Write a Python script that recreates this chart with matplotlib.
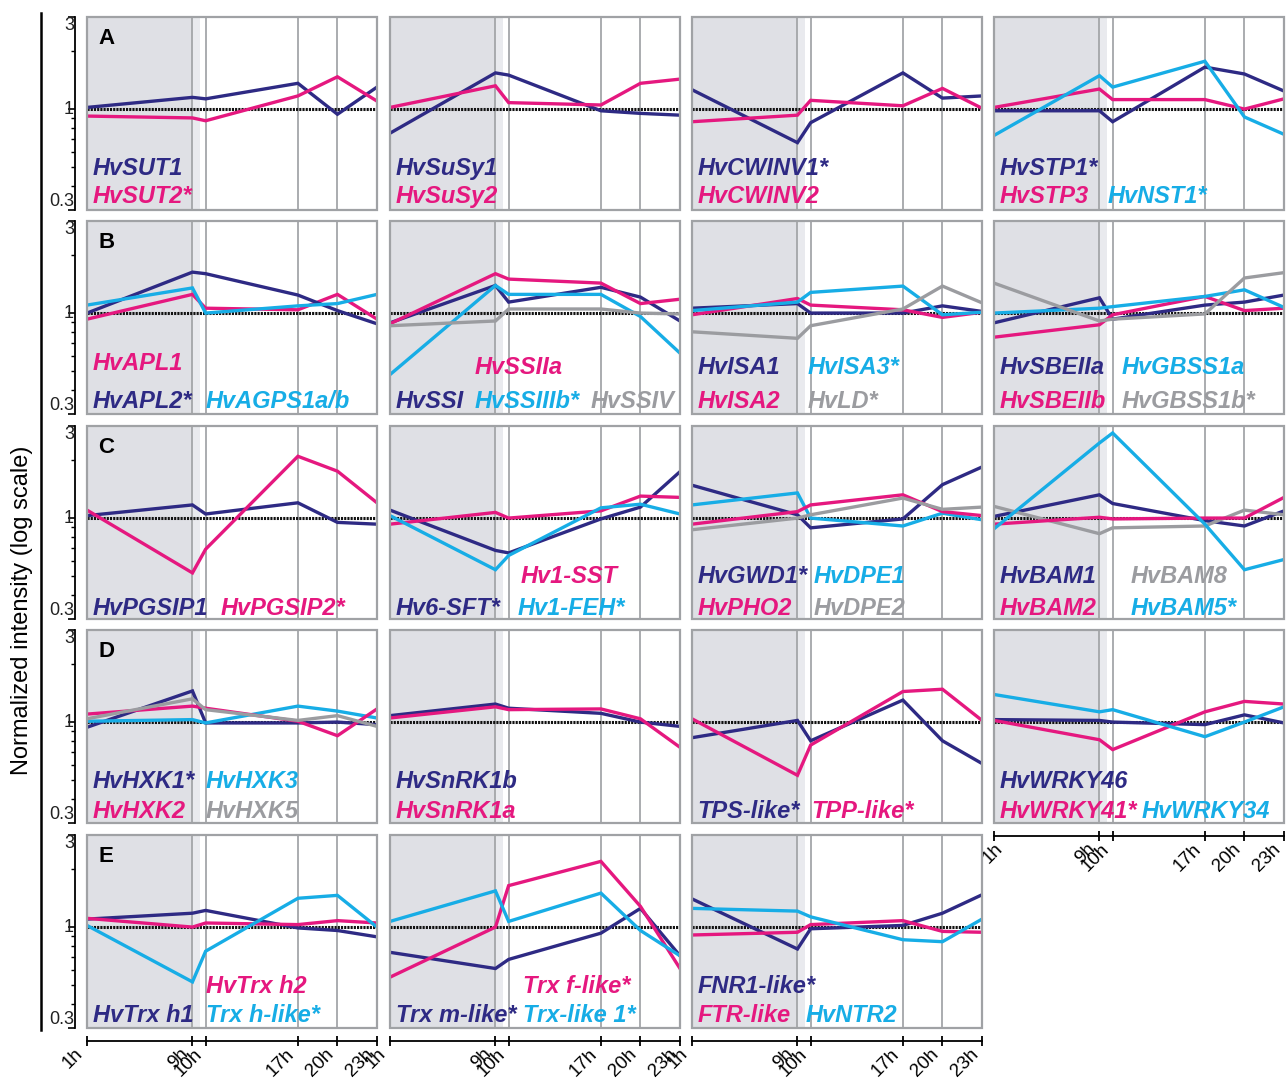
import matplotlib
matplotlib.use('Agg')
import matplotlib.pyplot as plt
from matplotlib.patches import Rectangle
from matplotlib.lines import Line2D
from matplotlib.ticker import FixedLocator, NullFormatter
from matplotlib.transforms import blended_transform_factory, ScaledTranslation

plt.rcParams['font.family'] = ['Liberation Sans', 'DejaVu Sans']

# ---- sampling times and axis labels ----
hours = [1, 9, 10, 17, 20, 23]
hour_labels = ['1h', '9h', '10h', '17h', '20h', '23h']
y_ticks = [0.3, 1, 3]
y_tick_labels = ['0.3', '1', '3']
y_minor = [0.4, 0.5, 0.6, 0.7, 0.8, 0.9, 2]

# ---- A: sucrose transport / cleavage, hexose transport ----
HvSUT1 = [1.02, 1.15, 1.13, 1.36, 0.94, 1.30]
HvSUT2 = [0.92, 0.90, 0.87, 1.17, 1.47, 1.10]
HvSuSy1 = [0.75, 1.54, 1.50, 0.98, 0.95, 0.93]
HvSuSy2 = [1.02, 1.32, 1.08, 1.05, 1.36, 1.43]
HvCWINV1 = [1.26, 0.67, 0.85, 1.54, 1.14, 1.17]
HvCWINV2 = [0.86, 0.93, 1.11, 1.04, 1.28, 1.01]
HvSTP1 = [0.98, 0.98, 0.86, 1.65, 1.52, 1.24]
HvSTP3 = [1.02, 1.27, 1.12, 1.12, 1.00, 1.13]
HvNST1 = [0.73, 1.49, 1.30, 1.77, 0.91, 0.74]

# ---- B: starch synthesis ----
HvAPL1 = [0.93, 1.25, 1.06, 1.04, 1.25, 0.93]
HvAPL2 = [1.00, 1.63, 1.60, 1.24, 1.03, 0.88]
HvAGPS1ab = [1.10, 1.35, 1.00, 1.09, 1.12, 1.25]
HvSSI = [0.89, 1.39, 1.14, 1.36, 1.21, 0.91]
HvSSIIa = [0.88, 1.60, 1.50, 1.43, 1.12, 1.18]
HvSSIIIb = [0.48, 1.39, 1.25, 1.25, 0.96, 0.62]
HvSSIV = [0.86, 0.91, 1.05, 1.05, 1.00, 0.99]
HvISA1 = [1.06, 1.12, 1.00, 1.00, 1.09, 1.02]
HvISA2 = [0.98, 1.19, 1.10, 1.04, 0.95, 1.01]
HvISA3 = [1.03, 1.14, 1.28, 1.38, 0.98, 1.01]
HvLD = [0.80, 0.74, 0.86, 1.05, 1.38, 1.13]
HvSBEIIa = [0.89, 1.20, 0.93, 1.10, 1.14, 1.24]
HvSBEIIb = [0.75, 0.87, 0.98, 1.22, 1.03, 1.06]
HvGBSS1a = [1.00, 1.06, 1.08, 1.22, 1.32, 1.07]
HvGBSS1b = [1.43, 0.91, 0.93, 0.99, 1.52, 1.62]

# ---- C: fructan and starch degradation ----
HvPGSIP1 = [1.03, 1.17, 1.05, 1.20, 0.95, 0.93]
HvPGSIP2 = [1.10, 0.52, 0.69, 2.09, 1.75, 1.20]
Hv6SFT = [1.10, 0.68, 0.66, 0.99, 1.14, 1.74]
Hv1SST = [0.93, 1.07, 1.00, 1.09, 1.30, 1.28]
Hv1FEH = [1.03, 0.54, 0.64, 1.13, 1.18, 1.05]
HvGWD1 = [1.48, 1.04, 0.89, 0.99, 1.49, 1.84]
HvDPE1 = [1.17, 1.35, 1.00, 0.91, 1.06, 0.98]
HvPHO2 = [0.93, 1.08, 1.17, 1.32, 1.08, 1.03]
HvDPE2 = [0.87, 1.00, 1.04, 1.27, 1.11, 1.14]
HvBAM1 = [1.02, 1.32, 1.19, 0.97, 0.91, 1.09]
HvBAM8 = [1.15, 0.83, 0.89, 0.91, 1.10, 1.04]
HvBAM2 = [0.93, 1.01, 0.99, 1.00, 1.00, 1.28]
HvBAM5 = [0.88, 2.45, 2.76, 0.93, 0.54, 0.61]

# ---- D: sugar sensing and signalling ----
HvHXK1 = [0.94, 1.45, 0.99, 0.99, 1.00, 0.97]
HvHXK3 = [1.01, 1.03, 0.99, 1.21, 1.14, 1.05]
HvHXK2 = [1.10, 1.21, 1.18, 1.01, 0.85, 1.17]
HvHXK5 = [1.04, 1.32, 1.16, 1.02, 1.08, 0.95]
HvSnRK1b = [1.08, 1.24, 1.18, 1.11, 1.00, 0.95]
HvSnRK1a = [1.05, 1.20, 1.16, 1.17, 1.04, 0.74]
TPSlike = [0.83, 1.02, 0.80, 1.30, 0.80, 0.61]
TPPlike = [1.04, 0.53, 0.76, 1.44, 1.48, 1.02]
HvWRKY46 = [1.03, 1.02, 1.00, 0.97, 1.09, 0.99]
HvWRKY41 = [1.02, 0.81, 0.72, 1.13, 1.28, 1.24]
HvWRKY34 = [1.39, 1.13, 1.16, 0.84, 1.00, 1.20]

# ---- E: redox regulation ----
HvTrxh1 = [1.10, 1.18, 1.22, 0.99, 0.96, 0.89]
HvTrxh2 = [1.11, 1.00, 1.05, 1.03, 1.08, 1.05]
Trxhlike = [1.02, 0.52, 0.75, 1.41, 1.46, 1.00]
Trxmlike = [0.74, 0.61, 0.68, 0.93, 1.25, 0.71]
Trxflike = [0.55, 1.00, 1.64, 2.19, 1.28, 0.61]
Trxlike1 = [1.07, 1.54, 1.07, 1.50, 0.96, 0.71]
FNR1like = [1.40, 0.77, 0.98, 1.02, 1.18, 1.47]
FTRlike = [0.91, 0.94, 1.03, 1.08, 0.95, 0.94]
HvNTR2 = [1.25, 1.21, 1.13, 0.86, 0.84, 1.10]

NAVY = '#2e2a84'
MAGENTA = '#e5187f'
CYAN = '#17ade6'
GREY = '#9b9ca0'

L = 0.02  # left text column (axes fraction)

# (row, col, letter, [(label, values, colour, x, line)])
panels = [
    (0, 0, 'A', [('HvSUT1', HvSUT1, NAVY, L, 1), ('HvSUT2*', HvSUT2, MAGENTA, L, 2)]),
    (0, 1, None, [('HvSuSy1', HvSuSy1, NAVY, L, 1), ('HvSuSy2', HvSuSy2, MAGENTA, L, 2)]),
    (0, 2, None, [('HvCWINV1*', HvCWINV1, NAVY, L, 1), ('HvCWINV2', HvCWINV2, MAGENTA, L, 2)]),
    (0, 3, None, [('HvSTP1*', HvSTP1, NAVY, L, 1), ('HvSTP3', HvSTP3, MAGENTA, L, 2),
                  ('HvNST1*', HvNST1, CYAN, 0.39, 2)]),
    (1, 0, 'B', [('HvAPL1', HvAPL1, MAGENTA, L, 1), ('HvAPL2*', HvAPL2, NAVY, L, 2),
                 ('HvAGPS1a/b', HvAGPS1ab, CYAN, 0.41, 2)]),
    (1, 1, None, [('HvSSI', HvSSI, NAVY, L, 2), ('HvSSIIa', HvSSIIa, MAGENTA, 0.29, 1),
                  ('HvSSIIIb*', HvSSIIIb, CYAN, 0.29, 2), ('HvSSIV', HvSSIV, GREY, 0.69, 2)]),
    (1, 2, None, [('HvISA1', HvISA1, NAVY, L, 1), ('HvISA2', HvISA2, MAGENTA, L, 2),
                  ('HvISA3*', HvISA3, CYAN, 0.40, 1), ('HvLD*', HvLD, GREY, 0.40, 2)]),
    (1, 3, None, [('HvSBEIIa', HvSBEIIa, NAVY, L, 1), ('HvSBEIIb', HvSBEIIb, MAGENTA, L, 2),
                  ('HvGBSS1a', HvGBSS1a, CYAN, 0.44, 1), ('HvGBSS1b*', HvGBSS1b, GREY, 0.44, 2)]),
    (2, 0, 'C', [('HvPGSIP1', HvPGSIP1, NAVY, L, 2), ('HvPGSIP2*', HvPGSIP2, MAGENTA, 0.46, 2)]),
    (2, 1, None, [('Hv6-SFT*', Hv6SFT, NAVY, L, 2), ('Hv1-SST', Hv1SST, MAGENTA, 0.45, 1),
                  ('Hv1-FEH*', Hv1FEH, CYAN, 0.44, 2)]),
    (2, 2, None, [('HvGWD1*', HvGWD1, NAVY, L, 1), ('HvDPE1', HvDPE1, CYAN, 0.42, 1),
                  ('HvPHO2', HvPHO2, MAGENTA, L, 2), ('HvDPE2', HvDPE2, GREY, 0.42, 2)]),
    (2, 3, None, [('HvBAM1', HvBAM1, NAVY, L, 1), ('HvBAM8', HvBAM8, GREY, 0.47, 1),
                  ('HvBAM2', HvBAM2, MAGENTA, L, 2), ('HvBAM5*', HvBAM5, CYAN, 0.47, 2)]),
    (3, 0, 'D', [('HvHXK1*', HvHXK1, NAVY, L, 1), ('HvHXK3', HvHXK3, CYAN, 0.41, 1),
                 ('HvHXK2', HvHXK2, MAGENTA, L, 2), ('HvHXK5', HvHXK5, GREY, 0.41, 2)]),
    (3, 1, None, [('HvSnRK1b', HvSnRK1b, NAVY, L, 1), ('HvSnRK1a', HvSnRK1a, MAGENTA, L, 2)]),
    (3, 2, None, [('TPS-like*', TPSlike, NAVY, L, 2), ('TPP-like*', TPPlike, MAGENTA, 0.41, 2)]),
    (3, 3, None, [('HvWRKY46', HvWRKY46, NAVY, L, 1), ('HvWRKY41*', HvWRKY41, MAGENTA, L, 2),
                  ('HvWRKY34', HvWRKY34, CYAN, 0.51, 2)]),
    (4, 0, 'E', [('HvTrx h1', HvTrxh1, NAVY, L, 2), ('HvTrx h2', HvTrxh2, MAGENTA, 0.41, 1),
                 ('Trx h-like*', Trxhlike, CYAN, 0.41, 2)]),
    (4, 1, None, [('Trx m-like*', Trxmlike, NAVY, L, 2), ('Trx f-like*', Trxflike, MAGENTA, 0.46, 1),
                  ('Trx-like 1*', Trxlike1, CYAN, 0.46, 2)]),
    (4, 2, None, [('FNR1-like*', FNR1like, NAVY, L, 1), ('FTR-like', FTRlike, MAGENTA, L, 2),
                  ('HvNTR2', HvNTR2, CYAN, 0.39, 2)]),
]

# text baselines per row (axes fraction): first and second line
row_baselines = {0: (0.181, 0.036), 1: (0.205, 0.03), 2: (0.187, 0.02),
                 3: (0.18, 0.025), 4: (0.18, 0.03)}

W, H = 1286, 1081
fig = plt.figure(figsize=(W / 100, H / 100), dpi=100)

col_left = [87, 390, 692, 994]
row_top = [17, 221, 426, 630, 835]
pw, ph = 290, 193

for row, col, letter, series in panels:
    x0 = col_left[col]
    y0 = row_top[row]
    ax = fig.add_axes([x0 / W, 1 - (y0 + ph) / H, pw / W, ph / H])
    ax.patch.set_visible(False)
    ax.set_yscale('log')
    ax.set_xlim(1, 23)
    ax.set_ylim(0.3, 3)

    # night period shading
    ax.axvspan(1, 9, color='#dfe0e5', lw=0, zorder=0)
    ax.axvspan(9, 9.55, color='#e9eaee', lw=0, zorder=0)
    for t in [9, 10, 17, 20]:
        ax.axvline(t, color='#a4a6a9', lw=1.3, zorder=1)
    ax.axhline(1, color='#111111', lw=2.2, ls=(0, (0.7, 0.35)), zorder=2)

    for name, vals, colour, tx, line in series:
        ax.plot(hours, vals, color=colour, lw=2.4, zorder=3, solid_joinstyle='miter')

    b1, b2 = row_baselines[row]
    if row == 1 and col == 0:
        b1 = 0.228
    for name, vals, colour, tx, line in series:
        ax.text(tx, b1 if line == 1 else b2, name, transform=ax.transAxes, color=colour,
                fontsize=17, fontweight='bold', fontstyle='italic', ha='left', va='baseline',
                zorder=4)

    if letter:
        ax.text(0.04, 0.945, letter, transform=ax.transAxes, fontsize=16, fontweight='bold',
                va='top', ha='left', color='black', zorder=4)

    ax.add_patch(Rectangle((0, 0), 1, 1, transform=ax.transAxes, fill=False,
                           ec='#a0a2a5', lw=1.6, zorder=5, clip_on=False))

    for s in ax.spines.values():
        s.set_visible(False)

    # y axis only on the first column
    if col == 0:
        sp = ax.spines['left']
        sp.set_visible(True)
        sp.set_position(('outward', 9))
        sp.set_color('black')
        sp.set_linewidth(1.3)
        ax.yaxis.set_major_locator(FixedLocator(y_ticks))
        ax.yaxis.set_minor_locator(FixedLocator(y_minor))
        ax.yaxis.set_major_formatter(NullFormatter())
        ax.yaxis.set_minor_formatter(NullFormatter())
        ax.tick_params(axis='y', which='major', length=5, width=1.2)
        ax.tick_params(axis='y', which='minor', length=3, width=1.0)
        ytr = blended_transform_factory(ax.transAxes, ax.transData)
        lx = -13 / pw
        for val, txt in zip(y_ticks, y_tick_labels):
            va = 'top' if val == max(y_ticks) else ('bottom' if val == min(y_ticks) else 'center')
            ax.text(lx, val, txt, transform=ytr, ha='right', va=va, fontsize=13,
                    color='#222222', clip_on=False)
    else:
        ax.tick_params(axis='y', which='both', left=False, labelleft=False)

    # x axis only under the bottom panel of each column
    if row == 4 or (row == 3 and col == 3):
        sp = ax.spines['bottom']
        sp.set_visible(True)
        sp.set_position(('outward', 9))
        sp.set_color('black')
        sp.set_linewidth(1.3)
        ax.set_xticks(hours)
        ax.set_xticklabels(hour_labels, rotation=45, ha='right', va='top',
                           rotation_mode='anchor', fontsize=13.5)
        ax.tick_params(axis='x', length=7, width=1.3, direction='inout', pad=0)
        for i, lab in enumerate(ax.get_xticklabels()):
            # the first label of the raised axis sits next to the lower-row panel
            dx = 0 if (row == 3 and i == 0) else -9
            lab.set_transform(lab.get_transform()
                              + ScaledTranslation(dx / 72, 0, fig.dpi_scale_trans))
    else:
        ax.tick_params(axis='x', which='both', bottom=False, labelbottom=False)
    ax.tick_params(axis='x', which='minor', bottom=False)

# long bracket line and shared y label
fig.add_artist(Line2D([41 / W, 41 / W], [1 - 13 / H, 1 - 1030 / H], color='black', lw=1.8))
fig.text(22 / W, 1 - 610 / H, 'Normalized intensity (log scale)', rotation=90,
         ha='center', va='center', fontsize=17)

fig.savefig('out.png', dpi=100, facecolor='white')
